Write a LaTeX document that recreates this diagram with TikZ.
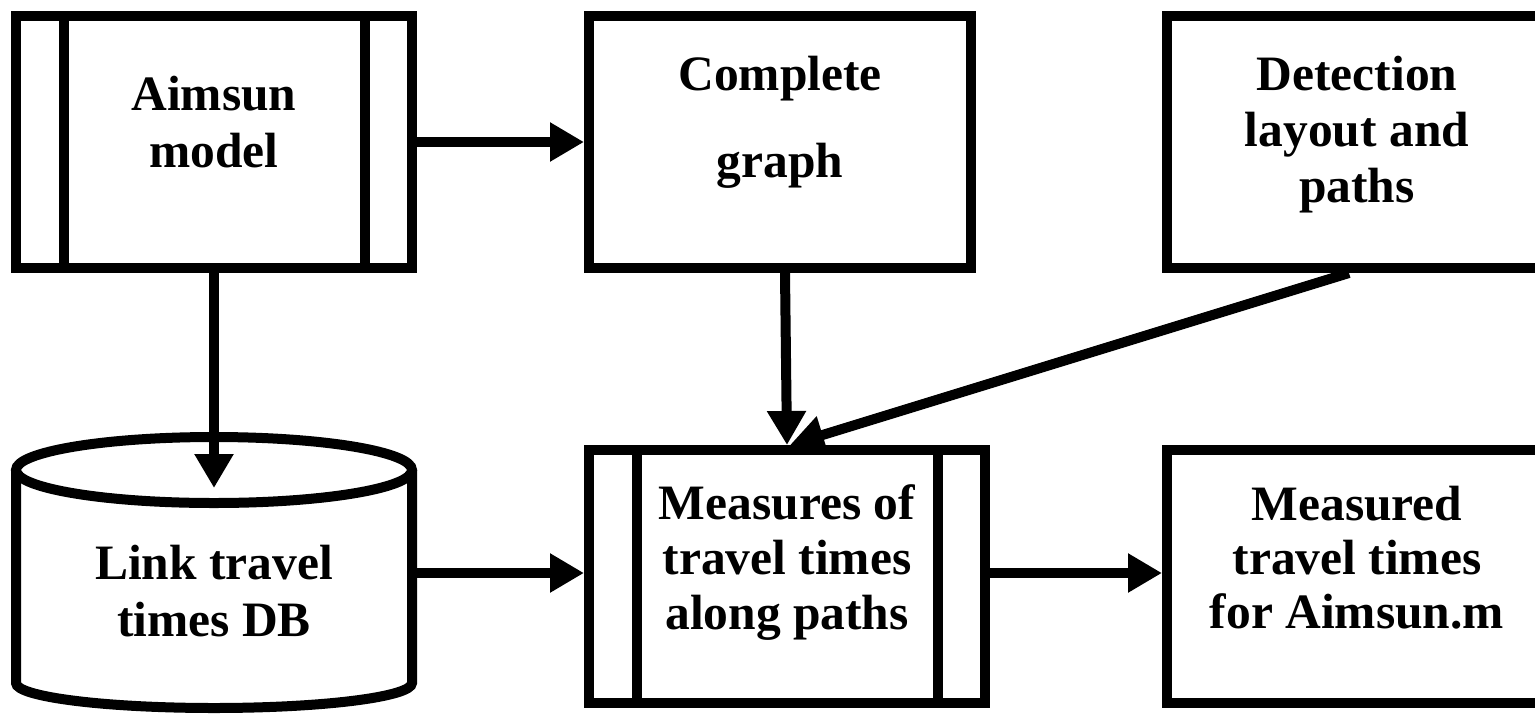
\documentclass[tikz,border=0pt]{standalone}
\usepackage{fontspec}
\setmainfont{Liberation Serif}
\usetikzlibrary{arrows.meta,calc}

\tikzset{
  box/.style={draw, line width=10pt, inner sep=0pt, fill=white},
  process/.style={box, path picture={
      \draw[line width=10pt]
        ([xshift=48pt]path picture bounding box.north west) --
        ([xshift=48pt]path picture bounding box.south west)
        ([xshift=-47pt]path picture bounding box.north east) --
        ([xshift=-47pt]path picture bounding box.south east);}},
  lbl/.style={align=center, inner sep=0pt,
    font=\bfseries\fontsize{49.5}{57}\selectfont},
  flow/.style={line width=10pt, -{Triangle[length=34pt,width=37pt]}}
}

\begin{document}
\begin{tikzpicture}[x=1pt,y=-1pt]
  \useasboundingbox (0,0) rectangle (1535,716);

  % upper row
  \node[process, minimum width=396pt, minimum height=252pt] (b1) at (214,142) {};
  \node[box, minimum width=382pt, minimum height=252pt] (b2) at (780,142) {};
  \node[box, minimum width=380pt, minimum height=252pt] (b3) at (1357,142) {};

  % lower row
  \node[process, minimum width=396pt, minimum height=253pt] (b5) at (787,576.5) {};
  \node[box, minimum width=380pt, minimum height=253pt] (b6) at (1357,576.5) {};

  % database cylinder
  \draw[line width=10pt, fill=white]
    (16,470) -- (16,683) arc[start angle=180, end angle=0, x radius=198, y radius=25]
    -- (412,470);
  \draw[line width=10pt] (214,470) ellipse[x radius=198, y radius=33];
  \coordinate (dbtop) at (214,488);
  \coordinate (dbright) at (417,573);

  % texts
  \node[lbl] (t1) at (214,122) {Aimsun\\model};
  \node[lbl, font=\bfseries\fontsize{49.5}{87}\selectfont] (t2) at (780,122) {Complete\\graph};
  \node[lbl, font=\bfseries\fontsize{49.5}{56}\selectfont] (t3) at (1357,134.5) {Detection\\layout and\\paths};
  \node[lbl, font=\bfseries\fontsize{49.5}{57}\selectfont] (t4) at (214,591) {Link travel\\times DB};
  \node[lbl, font=\bfseries\fontsize{49.5}{55}\selectfont] (t5) at (787,563) {Measures of\\travel times\\along paths};
  \node[lbl, font=\bfseries\fontsize{49.5}{54}\selectfont] (t6) at (1357,558) {Measured\\travel times\\for Aimsun.m};

  % connectors
  \draw[flow] (b1.east) -- (b2.west);
  \draw[flow] (b1.south) -- (dbtop);
  \draw[flow] ([xshift=5pt]b2.south) -- (b5.north);
  \draw[flow] ([xshift=-8pt]b3.south) -- ([xshift=3pt]b5.north);
  \draw[flow] (dbright) -- (b5.west |- dbright);
  \draw[flow] (b5.east |- dbright) -- (b6.west |- dbright);
\end{tikzpicture}
\end{document}
